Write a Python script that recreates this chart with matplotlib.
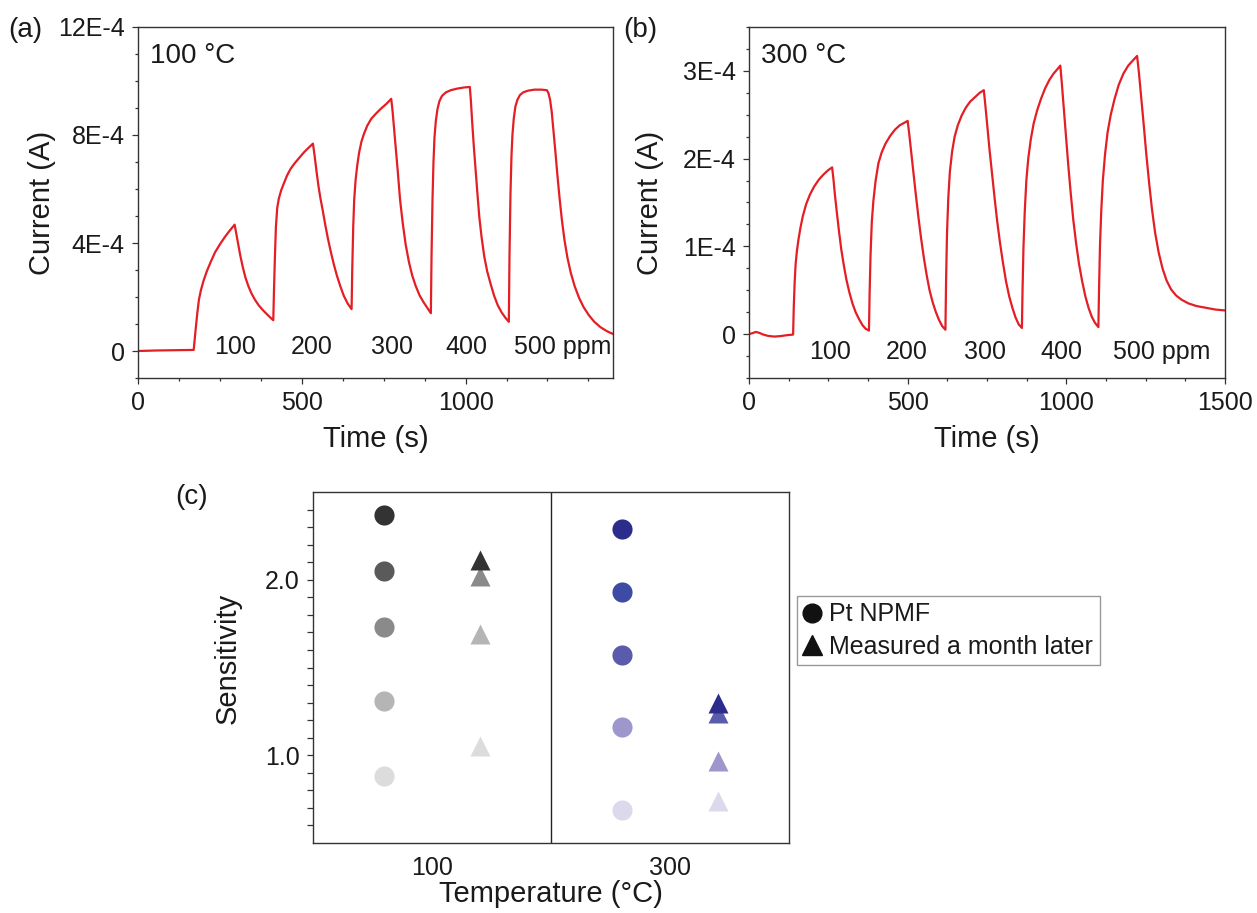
import matplotlib
matplotlib.use("Agg")
import matplotlib.pyplot as plt
from matplotlib.ticker import MultipleLocator, FixedLocator
from matplotlib.lines import Line2D

plt.rcParams['font.family'] = ['Liberation Sans', 'DejaVu Sans']
plt.rcParams['text.color'] = '#1a1a1a'
plt.rcParams['axes.labelcolor'] = '#1a1a1a'
plt.rcParams['xtick.color'] = '#333333'
plt.rcParams['ytick.color'] = '#333333'
plt.rcParams['xtick.labelcolor'] = '#1a1a1a'
plt.rcParams['ytick.labelcolor'] = '#1a1a1a'

# ---------------- data: panel (a), 100 °C (current in units of 1E-4 A) ----------------
time_a = [0, 60, 120, 170,
          172, 176, 181, 186, 192, 200, 210, 222, 235, 250, 265, 280, 295,
          300, 306, 312, 320, 328, 337, 347, 357, 368, 380, 392, 403, 413,
          415, 418, 421, 425, 430, 437, 445, 455, 466, 478, 492, 506, 520, 534,
          539, 545, 551, 557, 564, 572, 580, 589, 598, 607, 617, 628, 640, 652,
          654, 657, 660, 664, 669, 675, 682, 690, 700, 712, 727, 742, 758, 773,
          777, 782, 787, 793, 800, 808, 817, 827, 837, 848, 860, 872, 884, 894,
          896, 899, 902, 905, 909, 914, 920, 928, 940, 955, 975, 995, 1013,
          1016, 1020, 1025, 1030, 1036, 1042, 1049, 1057, 1066, 1076, 1087, 1098, 1110, 1121, 1132,
          1134, 1137, 1140, 1143, 1147, 1152, 1158, 1166, 1176, 1190, 1210, 1232, 1248,
          1253, 1258, 1263, 1268, 1274, 1280, 1287, 1294, 1302, 1311, 1321, 1333, 1346, 1360,
          1376, 1393, 1412, 1432, 1452]
current_a_e4 = [0.0, 0.02, 0.03, 0.04,
                0.3, 0.8, 1.4, 1.9, 2.25, 2.6, 2.95, 3.3, 3.65, 3.95, 4.22, 4.46, 4.68,
                4.35, 3.95, 3.55, 3.1, 2.72, 2.4, 2.12, 1.9, 1.7, 1.53, 1.38, 1.25, 1.14,
                2.2, 3.5, 4.6, 5.3, 5.65, 5.95, 6.2, 6.5, 6.75, 6.95, 7.15, 7.35, 7.52, 7.68,
                7.25, 6.65, 6.1, 5.65, 5.2, 4.65, 4.15, 3.65, 3.2, 2.8, 2.42, 2.05, 1.76, 1.55,
                3.0, 4.6, 5.6, 6.3, 6.85, 7.35, 7.75, 8.05, 8.35, 8.6, 8.8, 8.98, 9.15, 9.34,
                8.9, 8.2, 7.5, 6.65, 5.6, 4.75, 3.95, 3.3, 2.8, 2.4, 2.05, 1.8, 1.58, 1.4,
                3.5, 5.6, 7.0, 7.9, 8.5, 8.95, 9.25, 9.45, 9.58, 9.66, 9.72, 9.76, 9.78,
                9.3, 8.5, 7.6, 6.8, 5.85, 4.95, 4.2, 3.5, 2.95, 2.5, 2.05, 1.7, 1.43, 1.24, 1.08,
                3.5, 5.8, 7.2, 8.0, 8.6, 9.05, 9.3, 9.48, 9.58, 9.64, 9.68, 9.68, 9.66,
                9.55, 9.3, 8.85, 8.2, 7.4, 6.55, 5.65, 4.85, 4.1, 3.45, 2.9, 2.4, 1.98, 1.63,
                1.33, 1.08, 0.88, 0.73, 0.62]

# ---------------- data: panel (b), 300 °C (current in units of 1E-4 A) ----------------
time_b = [0, 10, 22, 32, 45, 60, 80, 100, 120, 139,
          141, 144, 147, 151, 156, 162, 170, 180, 192, 205, 220, 235, 250, 262,
          266, 271, 277, 284, 291, 299, 307, 316, 326, 336, 347, 358, 368, 378,
          380, 383, 387, 392, 399, 408, 418, 430, 445, 460, 475, 490, 500,
          505, 511, 518, 526, 534, 542, 551, 560, 569, 579, 589, 599, 609, 619,
          621, 624, 628, 633, 640, 648, 658, 670, 683, 697, 712, 727, 740,
          745, 751, 758, 766, 774, 782, 791, 800, 810, 820, 830, 840, 850, 860,
          862, 865, 869, 874, 880, 888, 897, 908, 920, 933, 947, 960, 972, 981,
          986, 992, 999, 1006, 1014, 1022, 1031, 1040, 1050, 1060, 1070, 1080, 1090, 1101,
          1103, 1106, 1110, 1115, 1122, 1130, 1140, 1152, 1165, 1180, 1195, 1210, 1223,
          1229, 1236, 1244, 1252, 1261, 1270, 1280, 1291, 1303, 1316, 1330, 1346, 1364,
          1385, 1410, 1440, 1470, 1500]
current_b_e4 = [0.0, 0.01, 0.025, 0.015, -0.005, -0.02, -0.028, -0.022, -0.012, -0.005,
                0.3, 0.6, 0.8, 0.95, 1.08, 1.21, 1.35, 1.48, 1.59, 1.68, 1.76, 1.82, 1.87, 1.9,
                1.77, 1.58, 1.38, 1.16, 0.96, 0.78, 0.62, 0.48, 0.35, 0.25, 0.17, 0.1, 0.06, 0.04,
                0.45, 0.9, 1.28, 1.52, 1.75, 1.95, 2.07, 2.17, 2.26, 2.33, 2.38, 2.41, 2.43,
                2.28, 2.08, 1.84, 1.58, 1.33, 1.1, 0.87, 0.67, 0.5, 0.36, 0.25, 0.16, 0.09, 0.05,
                0.6, 1.15, 1.55, 1.85, 2.08, 2.25, 2.38, 2.49, 2.58, 2.65, 2.7, 2.75, 2.78,
                2.6, 2.37, 2.1, 1.82, 1.55, 1.29, 1.04, 0.82, 0.6, 0.43, 0.3, 0.19, 0.11, 0.07,
                0.5, 1.0, 1.4, 1.75, 2.0, 2.22, 2.4, 2.55, 2.68, 2.8, 2.9, 2.97, 3.02, 3.06,
                2.85, 2.58, 2.25, 1.93, 1.6, 1.3, 1.03, 0.8, 0.6, 0.43, 0.3, 0.2, 0.13, 0.08,
                0.5, 1.0, 1.4, 1.75, 2.05, 2.3, 2.5, 2.68, 2.84, 2.97, 3.06, 3.12, 3.17,
                2.97, 2.7, 2.38, 2.05, 1.72, 1.42, 1.15, 0.93, 0.75, 0.61, 0.51, 0.44, 0.39,
                0.35, 0.32, 0.3, 0.28, 0.27]

ppm_labels = ['100', '200', '300', '400', '500 ppm']
ppm_x_a = [296, 531, 775, 1001, 1297]
ppm_x_b = [255, 498, 744, 983, 1301]

# ---------------- data: panel (c), sensitivity ----------------
temps = [100, 300]
fresh_conc = [100, 200, 300, 400, 500]
later_conc = [100, 200, 300, 500]
fresh_100 = [0.88, 1.31, 1.73, 2.05, 2.37]
later_100 = [1.05, 1.69, 2.02, 2.11]
fresh_300 = [0.69, 1.16, 1.57, 1.93, 2.29]
later_300 = [0.74, 0.97, 1.24, 1.30]
gray_colors = {100: '#dcdcdc', 200: '#b5b5b5', 300: '#8a8a8a', 400: '#5a5a5a', 500: '#333333'}
blue_colors = {100: '#dcd9ec', 200: '#9d97cb', 300: '#5a5bab', 400: '#3d4ba4', 500: '#2b2c8c'}

W, H = 1257, 913
fig = plt.figure(figsize=(W / 100, H / 100), dpi=100)

def px_axes(left, top, right, bottom):
    return fig.add_axes([left / W, 1 - bottom / H, (right - left) / W, (bottom - top) / H])

RED = '#e31e24'
SPINE = '#333333'
TICK_FS = 18
LABEL_FS = 21

def style_axes(ax):
    for s in ax.spines.values():
        s.set_color(SPINE)
        s.set_linewidth(1.0)
    ax.tick_params(which='major', direction='out', length=4.5, width=0.9, labelsize=TICK_FS, pad=5)
    ax.tick_params(which='minor', direction='out', length=2.5, width=0.9)

# ---------- panel (a) ----------
axa = px_axes(138, 27, 613, 378)
axa.plot(time_a, current_a_e4, color=RED, lw=1.6, solid_joinstyle='round')
axa.set_xlim(0, 1450)
axa.set_ylim(-1, 12)
axa.xaxis.set_major_locator(FixedLocator([0, 500, 1000]))
axa.xaxis.set_minor_locator(MultipleLocator(125))
axa.yaxis.set_major_locator(FixedLocator([0, 4, 8, 12]))
axa.yaxis.set_minor_locator(MultipleLocator(1))
axa.set_yticklabels(['0', '4E-4', '8E-4', '12E-4'])
style_axes(axa)
axa.set_xlabel('Time (s)', fontsize=LABEL_FS)
axa.set_ylabel('Current (A)', fontsize=LABEL_FS)
axa.xaxis.set_label_coords(0.5, -0.135)
axa.yaxis.set_label_coords(-0.172, 0.5)
axa.text(0.025, 0.917, '100 °C', transform=axa.transAxes, fontsize=20, va='center', ha='left')
for lab, x in zip(ppm_labels, ppm_x_a):
    axa.text(x, 0.15, lab, fontsize=18, ha='center', va='center')

# ---------- panel (b) ----------
axb = px_axes(749, 27, 1225, 378)
axb.plot(time_b, current_b_e4, color=RED, lw=1.6, solid_joinstyle='round')
axb.set_xlim(0, 1500)
axb.set_ylim(-0.5, 3.5)
axb.xaxis.set_major_locator(FixedLocator([0, 500, 1000, 1500]))
axb.xaxis.set_minor_locator(MultipleLocator(125))
axb.yaxis.set_major_locator(FixedLocator([0, 1, 2, 3]))
axb.yaxis.set_minor_locator(MultipleLocator(0.25))
axb.set_yticklabels(['0', '1E-4', '2E-4', '3E-4'])
style_axes(axb)
axb.set_xlabel('Time (s)', fontsize=LABEL_FS)
axb.set_ylabel('Current (A)', fontsize=LABEL_FS)
axb.xaxis.set_label_coords(0.5, -0.135)
axb.yaxis.set_label_coords(-0.178, 0.5)
axb.text(0.025, 0.917, '300 °C', transform=axb.transAxes, fontsize=20, va='center', ha='left')
for lab, x in zip(ppm_labels, ppm_x_b):
    axb.text(x, -0.2, lab, fontsize=18, ha='center', va='center')

# ---------- panel (c) ----------
axc = px_axes(313, 492, 789, 843)
offset = 40
for conc, v in zip(fresh_conc, fresh_100):
    axc.plot(temps[0] - offset, v, 'o', ms=14.5, color=gray_colors[conc], mec='none')
for conc, v in zip(later_conc, later_100):
    axc.plot(temps[0] + offset, v, '^', ms=15, color=gray_colors[conc], mec='none')
for conc, v in zip(fresh_conc, fresh_300):
    axc.plot(temps[1] - offset, v, 'o', ms=14.5, color=blue_colors[conc], mec='none')
for conc, v in zip(later_conc, later_300):
    axc.plot(temps[1] + offset, v, '^', ms=15, color=blue_colors[conc], mec='none')
axc.axvline(200, color='#222222', lw=1.0)
axc.set_xlim(0, 400)
axc.set_ylim(0.5, 2.5)
axc.xaxis.set_major_locator(FixedLocator(temps))
axc.set_xticklabels([str(t) for t in temps])
axc.yaxis.set_major_locator(FixedLocator([1.0, 2.0]))
axc.yaxis.set_minor_locator(FixedLocator([0.6, 0.7, 0.8, 0.9, 1.1, 1.2, 1.3, 1.4, 1.5, 1.6, 1.7,
                                          1.8, 1.9, 2.1, 2.2, 2.3, 2.4]))
axc.set_yticklabels(['1.0', '2.0'])
style_axes(axc)
axc.tick_params(axis='x', which='both', length=0, pad=9)
axc.tick_params(axis='y', which='minor', length=4)
axc.tick_params(axis='y', which='major', length=4.5)
axc.set_xlabel('Temperature (°C)', fontsize=LABEL_FS)
axc.set_ylabel('Sensitivity', fontsize=LABEL_FS)
axc.xaxis.set_label_coords(0.5, -0.105)
axc.yaxis.set_label_coords(-0.15, 0.527)

handles = [Line2D([], [], ls='none', marker='o', ms=13.5, color='#111111'),
           Line2D([], [], ls='none', marker='^', ms=14, color='#111111')]
leg = fig.legend(handles, ['Pt NPMF', 'Measured a month later'],
                 loc='upper left', bbox_to_anchor=(797 / W, 1 - 596 / H),
                 fontsize=18, frameon=True, fancybox=False, framealpha=1,
                 edgecolor='#999999', handlelength=0.7, handletextpad=0.35,
                 borderpad=0.25, labelspacing=0.35, borderaxespad=0)
leg.get_frame().set_linewidth(1.0)

fig.text(8 / W, 1 - 30 / H, '(a)', fontsize=20, va='center', ha='left')
fig.text(623 / W, 1 - 30 / H, '(b)', fontsize=20, va='center', ha='left')
fig.text(175 / W, 1 - 497 / H, '(c)', fontsize=20, va='center', ha='left')

fig.savefig('out.png', dpi=100)
